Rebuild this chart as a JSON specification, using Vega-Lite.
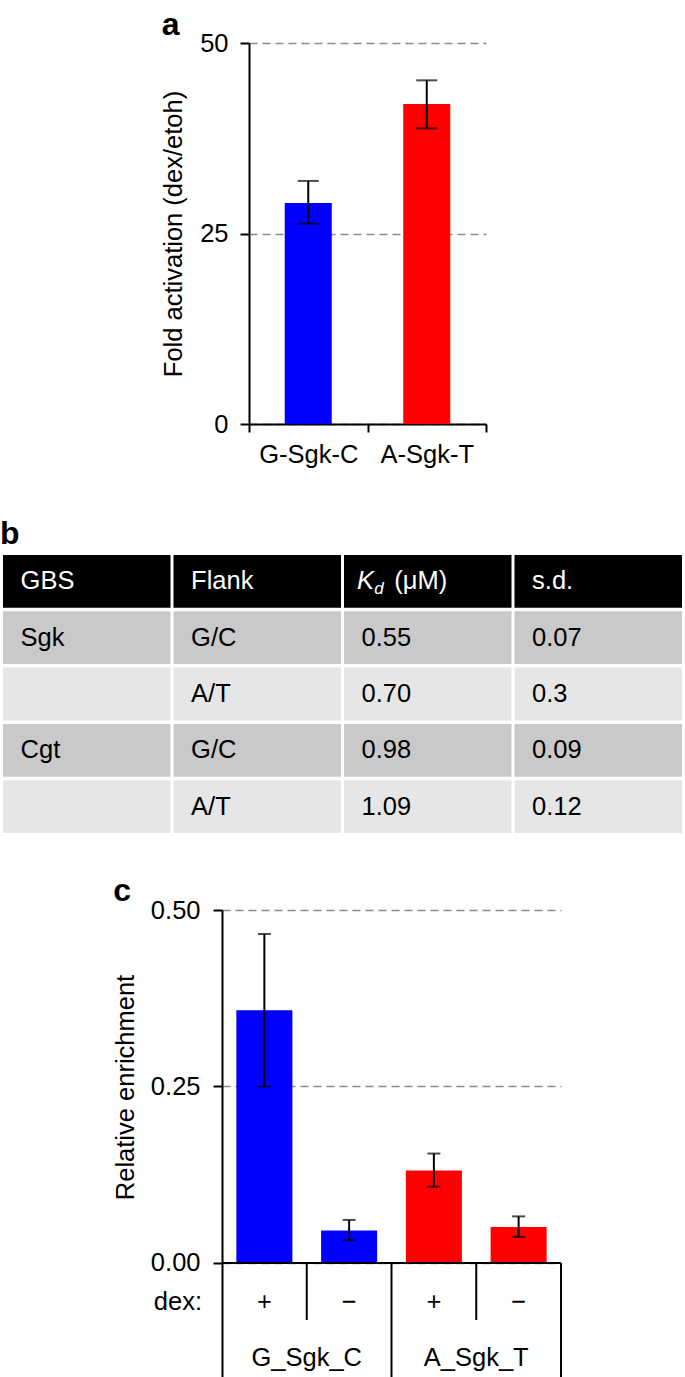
{
  "$schema": "https://vega.github.io/schema/vega-lite/v6.json",
  "padding": {"top": 9, "left": 0, "right": 0, "bottom": 0},
  "background": "white",
  "spacing": 42,
  "resolve": {"scale": {"color": "independent"}},
  "config": {
    "font": "Liberation Sans",
    "view": {"stroke": null},
    "axis": {
      "labelFont": "Liberation Sans", "titleFont": "Liberation Sans",
      "labelFontSize": 25.5, "titleFontSize": 25.5, "titleFontWeight": "normal",
      "labelColor": "black", "titleColor": "black",
      "domainColor": "black", "tickColor": "black",
      "domainWidth": 2, "tickWidth": 2, "grid": false
    },
    "title": {"fontSize": 32, "fontWeight": "bold", "anchor": "start", "frame": "bounds", "color": "black", "baseline": "alphabetic", "font": "Liberation Sans"},
    "text": {"font": "Liberation Sans", "fontSize": 25.5, "color": "black"}
  },
  "vconcat": [
    {
      "bounds": "flush",
      "spacing": 0,
      "hconcat": [
        {"width": 249, "height": 433, "data": {"values": [{"s": 0}]}, "mark": {"type": "point", "opacity": 0}, "encoding": {}},
        {
          "width": 237, "height": 381,
          "title": {"text": "a", "offset": -11},
          "data": {"values": [
            {"construct": "G-Sgk-C", "fold": 29.0, "lo": 26.3, "hi": 31.9},
            {"construct": "A-Sgk-T", "fold": 42.0, "lo": 38.8, "hi": 45.1}
          ]},
          "layer": [
            {
              "mark": {"type": "bar", "width": {"band": 0.397}},
              "encoding": {
                "x": {"field": "construct", "type": "nominal", "sort": null, "scale": {"paddingInner": 0, "paddingOuter": 0},
                      "axis": {"title": null, "labelAngle": 0, "tickBand": "extent", "tickSize": 8, "labelPadding": 10}},
                "y": {"field": "fold", "type": "quantitative", "scale": {"domain": [0, 50], "nice": false},
                      "axis": {"values": [0, 25, 50], "title": "Fold activation (dex/etoh)", "tickSize": 9, "labelPadding": 12, "titlePadding": 13,
                               "grid": true, "gridDash": [8, 5], "gridColor": "#8a8a8a", "gridWidth": 1.6}},
                "color": {"field": "construct", "type": "nominal", "legend": null,
                          "scale": {"domain": ["G-Sgk-C", "A-Sgk-T"], "range": ["#0000ff", "#ff0000"]}}
              }
            },
            {
              "mark": {"type": "rule", "color": "black", "strokeWidth": 2},
              "encoding": {
                "x": {"field": "construct", "type": "nominal", "sort": null},
                "y": {"field": "lo", "type": "quantitative"},
                "y2": {"field": "hi"}
              }
            },
            {
              "mark": {"type": "tick", "color": "black", "size": 21, "thickness": 2},
              "encoding": {
                "x": {"field": "construct", "type": "nominal", "sort": null},
                "y": {"field": "lo", "type": "quantitative"}
              }
            },
            {
              "mark": {"type": "tick", "color": "black", "size": 21, "thickness": 2},
              "encoding": {
                "x": {"field": "construct", "type": "nominal", "sort": null},
                "y": {"field": "hi", "type": "quantitative"}
              }
            }
          ]
        }
      ]
    },
    {
      "width": 685, "height": 278,
      "title": {"text": "b", "offset": 4},
      "data": {"values": [
        {"row": "r0", "col": "c1", "kind": "header", "label": "GBS"},
        {"row": "r0", "col": "c2", "kind": "header", "label": "Flank"},
        {"row": "r0", "col": "c3", "kind": "header", "label": ""},
        {"row": "r0", "col": "c4", "kind": "header", "label": "s.d."},
        {"row": "r1", "col": "c1", "kind": "dark", "label": "Sgk"},
        {"row": "r1", "col": "c2", "kind": "dark", "label": "G/C"},
        {"row": "r1", "col": "c3", "kind": "dark", "label": "0.55"},
        {"row": "r1", "col": "c4", "kind": "dark", "label": "0.07"},
        {"row": "r2", "col": "c1", "kind": "light", "label": ""},
        {"row": "r2", "col": "c2", "kind": "light", "label": "A/T"},
        {"row": "r2", "col": "c3", "kind": "light", "label": "0.70"},
        {"row": "r2", "col": "c4", "kind": "light", "label": "0.3"},
        {"row": "r3", "col": "c1", "kind": "dark", "label": "Cgt"},
        {"row": "r3", "col": "c2", "kind": "dark", "label": "G/C"},
        {"row": "r3", "col": "c3", "kind": "dark", "label": "0.98"},
        {"row": "r3", "col": "c4", "kind": "dark", "label": "0.09"},
        {"row": "r4", "col": "c1", "kind": "light", "label": ""},
        {"row": "r4", "col": "c2", "kind": "light", "label": "A/T"},
        {"row": "r4", "col": "c3", "kind": "light", "label": "1.09"},
        {"row": "r4", "col": "c4", "kind": "light", "label": "0.12"}
      ]},
      "encoding": {
        "x": {"field": "col", "type": "nominal", "axis": null, "scale": {"paddingInner": 0.0176, "paddingOuter": 0.0176}},
        "y": {"field": "row", "type": "nominal", "axis": null, "scale": {"paddingInner": 0.063, "paddingOuter": 0}}
      },
      "layer": [
        {
          "mark": {"type": "rect"},
          "encoding": {
            "color": {"field": "kind", "type": "nominal", "legend": null,
                      "scale": {"domain": ["header", "dark", "light"], "range": ["#000000", "#c9c9c9", "#e6e6e6"]}}
          }
        },
        {
          "mark": {"type": "text", "align": "left", "baseline": "middle"},
          "encoding": {
            "x": {"field": "col", "type": "nominal", "bandPosition": 0.105},
            "text": {"field": "label"},
            "color": {"condition": {"test": "datum.kind === 'header'", "value": "white"}, "value": "black"}
          }
        },
        {
          "transform": [{"filter": "datum.row === 'r0' && datum.col === 'c3'"}],
          "mark": {"type": "text", "align": "left", "baseline": "middle", "text": "K", "fontStyle": "italic", "color": "white"},
          "encoding": {"x": {"field": "col", "type": "nominal", "bandPosition": 0.078}}
        },
        {
          "transform": [{"filter": "datum.row === 'r0' && datum.col === 'c3'"}],
          "mark": {"type": "text", "align": "left", "baseline": "middle", "text": "d", "fontStyle": "italic", "fontSize": 17, "dy": 8, "color": "white"},
          "encoding": {"x": {"field": "col", "type": "nominal", "bandPosition": 0.18}}
        },
        {
          "transform": [{"filter": "datum.row === 'r0' && datum.col === 'c3'"}],
          "mark": {"type": "text", "align": "left", "baseline": "middle", "text": "(μM)", "color": "white"},
          "encoding": {"x": {"field": "col", "type": "nominal", "bandPosition": 0.3}}
        }
      ]
    },
    {
      "bounds": "flush",
      "spacing": 0,
      "hconcat": [
        {"width": 222, "height": 1, "data": {"values": [{"s": 0}]}, "mark": {"type": "point", "opacity": 0}, "encoding": {}},
        {
          "width": 339, "height": 467,
          "title": {"text": "c", "offset": -10},
          "data": {"values": [
            {"cond": "G+", "group": "G_Sgk_C", "dex": "+", "value": 0.358, "lo": 0.250, "hi": 0.466},
            {"cond": "G-", "group": "G_Sgk_C", "dex": "−", "value": 0.046, "lo": 0.032, "hi": 0.061},
            {"cond": "A+", "group": "A_Sgk_T", "dex": "+", "value": 0.131, "lo": 0.108, "hi": 0.155},
            {"cond": "A-", "group": "A_Sgk_T", "dex": "−", "value": 0.051, "lo": 0.037, "hi": 0.066}
          ]},
          "layer": [
            {
              "mark": {"type": "bar", "width": {"band": 0.661}},
              "encoding": {
                "x": {"field": "cond", "type": "nominal", "axis": null,
                      "scale": {"domain": ["G+", "G-", "A+", "A-"], "paddingInner": 0, "paddingOuter": 0}},
                "y": {"field": "value", "type": "quantitative",
                      "scale": {"domain": [-0.1615, 0.5], "nice": false, "zero": false},
                      "axis": {"values": [0, 0.25, 0.5], "format": ".2f", "title": "Relative enrichment", "titleY": 177,
                               "tickSize": 9, "labelPadding": 13, "titlePadding": 12,
                               "grid": true, "gridDash": [8, 5], "gridColor": "#8a8a8a", "gridWidth": 1.6}},
                "color": {"field": "group", "type": "nominal", "legend": null,
                          "scale": {"domain": ["G_Sgk_C", "A_Sgk_T"], "range": ["#0000ff", "#ff0000"]}}
              }
            },
            {
              "mark": {"type": "rule", "color": "black", "strokeWidth": 2},
              "encoding": {
                "x": {"field": "cond", "type": "nominal", "axis": null},
                "y": {"field": "lo", "type": "quantitative"},
                "y2": {"field": "hi"}
              }
            },
            {
              "mark": {"type": "tick", "color": "black", "size": 13, "thickness": 2},
              "encoding": {
                "x": {"field": "cond", "type": "nominal", "axis": null},
                "y": {"field": "lo", "type": "quantitative"}
              }
            },
            {
              "mark": {"type": "tick", "color": "black", "size": 13, "thickness": 2},
              "encoding": {
                "x": {"field": "cond", "type": "nominal", "axis": null},
                "y": {"field": "hi", "type": "quantitative"}
              }
            },
            {
              "data": {"values": [{"z": 0}]},
              "mark": {"type": "rule", "color": "black", "strokeWidth": 2},
              "encoding": {"y": {"field": "z", "type": "quantitative"}}
            },
            {
              "transform": [{"filter": "datum.dex === '+'"}],
              "mark": {"type": "rule", "color": "black", "strokeWidth": 2},
              "encoding": {
                "x": {"field": "cond", "type": "nominal", "axis": null, "bandPosition": 1},
                "y": {"datum": 0, "type": "quantitative"},
                "y2": {"datum": -0.0807}
              }
            },
            {
              "transform": [{"filter": "datum.dex === '−'"}],
              "mark": {"type": "rule", "color": "black", "strokeWidth": 2},
              "encoding": {
                "x": {"field": "cond", "type": "nominal", "axis": null, "bandPosition": 1},
                "y": {"datum": 0, "type": "quantitative"},
                "y2": {"datum": -0.1615}
              }
            },
            {
              "mark": {"type": "text", "align": "center", "baseline": "alphabetic"},
              "encoding": {
                "x": {"field": "cond", "type": "nominal", "axis": null},
                "y": {"datum": -0.066, "type": "quantitative"},
                "text": {"field": "dex"}
              }
            },
            {
              "transform": [{"filter": "datum.dex === '+'"}],
              "mark": {"type": "text", "align": "center", "baseline": "alphabetic"},
              "encoding": {
                "x": {"field": "cond", "type": "nominal", "axis": null, "bandPosition": 1},
                "y": {"datum": -0.146, "type": "quantitative"},
                "text": {"field": "group"}
              }
            },
            {
              "transform": [{"filter": "datum.cond === 'G+'"}],
              "mark": {"type": "text", "align": "right", "baseline": "alphabetic", "text": "dex:", "dx": -20},
              "encoding": {
                "x": {"field": "cond", "type": "nominal", "axis": null, "bandPosition": 0},
                "y": {"datum": -0.066, "type": "quantitative"}
              }
            }
          ]
        }
      ]
    }
  ]
}
